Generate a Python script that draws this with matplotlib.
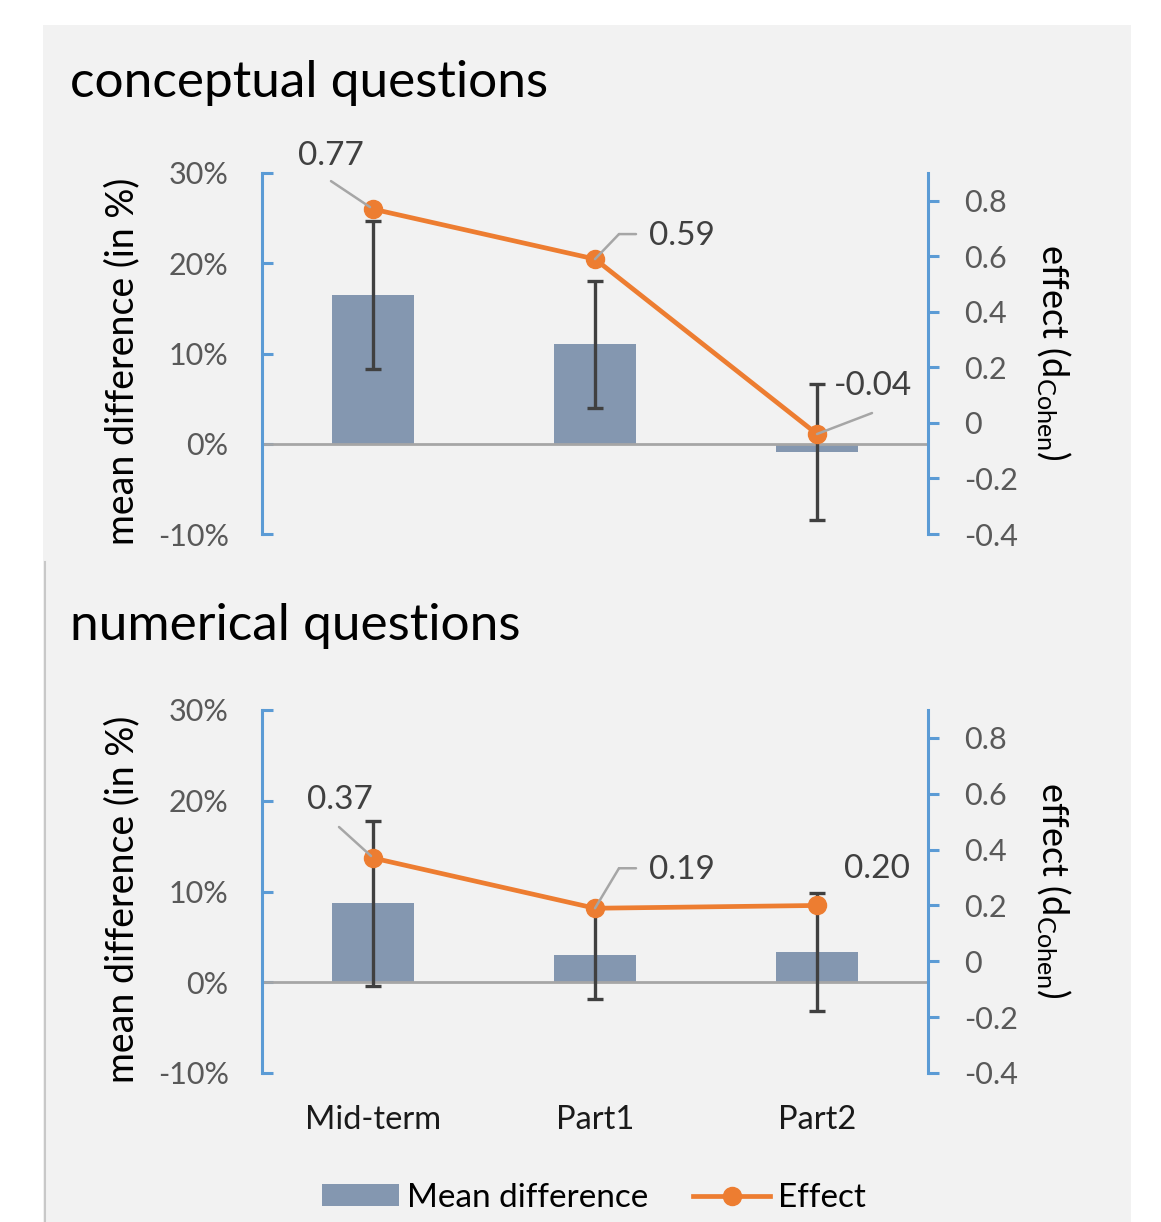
import matplotlib
matplotlib.use("Agg")
import matplotlib.pyplot as plt
from matplotlib.patches import Rectangle, Patch
from matplotlib.lines import Line2D
from matplotlib.ticker import FixedLocator, FuncFormatter
from matplotlib.transforms import offset_copy

# ---- data -------------------------------------------------------------
categories = ["Mid-term", "Part1", "Part2"]

concept_mean = [16.5, 11.0, -0.9]      # mean difference in %
concept_err = [8.2, 7.0, 7.5]          # half-length of error bars in %
concept_effect = [0.77, 0.59, -0.04]   # Cohen's d

numeric_mean = [8.7, 3.0, 3.3]
numeric_err = [9.1, 4.9, 6.5]
numeric_effect = [0.37, 0.19, 0.20]

pct_ticks = [-10, 0, 10, 20, 30]
effect_ticks = [-0.4, -0.2, 0, 0.2, 0.4, 0.6, 0.8]
panel_titles = ["conceptual questions", "numerical questions"]

# ---- style ------------------------------------------------------------
FONT = ["Lato", "DejaVu Sans"]
plt.rcParams["font.family"] = FONT
plt.rcParams["axes.unicode_minus"] = False
plt.rcParams["mathtext.fontset"] = "custom"
plt.rcParams["mathtext.rm"] = "Lato"
plt.rcParams["mathtext.it"] = "Lato:italic"
plt.rcParams["mathtext.bf"] = "Lato:bold"

BAR = "#8497B0"
ORANGE = "#ED7D31"
AXBLUE = "#5B9BD5"
PANEL = "#F2F2F2"
TICKGREY = "#595959"
LABELGREY = "#404040"
LEADER = "#A6A6A6"

W, H, DPI = 1161, 1222, 100
fig = plt.figure(figsize=(W / DPI, H / DPI), dpi=DPI, facecolor="white")


def fx(px):
    return px / W


def fy(py):
    return 1 - py / H


# chart area background and the left border of the lower chart
fig.patches.append(Rectangle((fx(43), 0), fx(1131) - fx(43), fy(25),
                             transform=fig.transFigure, facecolor=PANEL,
                             edgecolor="none", zorder=-10))
fig.add_artist(Line2D([fx(44.5), fx(44.5)], [0, fy(562)], color="#C8C8C8",
                      lw=1.5, transform=fig.transFigure, zorder=-5))


def leader(ax, x, y, pts):
    """Polyline given as pixel offsets from the data point (x, y)."""
    for (x0, y0), (x1, y1) in zip(pts[:-1], pts[1:]):
        ax.annotate("", xy=(x, y),
                    xycoords=offset_copy(ax.transData, fig=fig, x=x0, y=y0, units="dots"),
                    xytext=(x1 - x0, y1 - y0), textcoords="offset pixels",
                    arrowprops=dict(arrowstyle="-", color=LEADER, lw=1.8,
                                    shrinkA=0, shrinkB=0),
                    zorder=6)


def panel(top, bottom, title, title_base, means, errs, effects, labels, show_x):
    ax = fig.add_axes([fx(262), fy(bottom), fx(928) - fx(262), (bottom - top) / H])
    ax.set_facecolor("none")
    x = list(range(len(categories)))

    ax.bar(x, means, width=0.37, color=BAR, zorder=2)
    ax.errorbar(x, means, yerr=errs, fmt="none", ecolor=LABELGREY,
                elinewidth=2.4, capsize=6, capthick=2.4, zorder=3)
    ax.axhline(0, color=LEADER, lw=2, zorder=2.5)

    ax.set_xlim(-0.5, 2.5)
    ax.set_ylim(-10, 30)
    ax.yaxis.set_major_locator(FixedLocator(pct_ticks))
    ax.yaxis.set_major_formatter(FuncFormatter(lambda v, p: f"{v:.0f}%"))
    for s in ["top", "right", "bottom"]:
        ax.spines[s].set_visible(False)
    ax.spines["left"].set_color(AXBLUE)
    ax.spines["left"].set_linewidth(2.2)
    ax.tick_params(axis="y", direction="in", length=8, width=2.2, color=AXBLUE,
                   labelcolor=TICKGREY, labelsize=22, pad=24)
    ax.set_xticks(x)
    if show_x:
        ax.set_xticklabels(categories, fontsize=23.5, color="#1A1A1A")
        ax.tick_params(axis="x", length=0, pad=23)
    else:
        ax.set_xticklabels([])
        ax.tick_params(axis="x", length=0)

    axr = ax.twinx()
    axr.set_ylim(-0.4, 0.9)
    axr.yaxis.set_major_locator(FixedLocator(effect_ticks))
    axr.yaxis.set_major_formatter(FuncFormatter(lambda v, p: f"{round(v, 1):g}"))
    for s in ["top", "left", "bottom"]:
        axr.spines[s].set_visible(False)
    axr.spines["right"].set_color(AXBLUE)
    axr.spines["right"].set_linewidth(2.2)
    axr.tick_params(axis="y", direction="out", length=8, width=2.2, color=AXBLUE,
                    labelcolor=TICKGREY, labelsize=22, pad=18)

    axr.plot(x, effects, color=ORANGE, lw=3.4, marker="o", markersize=13,
             zorder=5, solid_capstyle="round")

    for i, (tx, ty, ha, pts) in enumerate(labels):
        axr.annotate(f"{effects[i]:.2f}", xy=(x[i], effects[i]), xytext=(tx, ty),
                     textcoords="offset pixels", ha=ha, va="center",
                     fontsize=24, color=LABELGREY, zorder=7)
        if pts:
            leader(axr, x[i], effects[i], pts)

    fig.text(fx(70), fy(title_base), title, fontsize=37, color="black",
             ha="left", va="baseline")
    mid = (top + bottom) / 2
    fig.text(fx(122), fy(mid + 8), "mean difference (in %)", rotation=90,
             fontsize=27, color="black", ha="center", va="center")
    fig.text(fx(1053), fy(mid - 1), r"effect (d$_{\mathrm{Cohen}}$)", rotation=270,
             fontsize=26, color="black", ha="center", va="center")
    return ax, axr


# label positions: (dx, dy, ha, leader polyline) in pixels relative to the point
concept_labels = [
    (-42, 53, "center", [(-42, 28), (-3, 2)]),
    (54, 23, "left", [(0, 0), (24, 25), (41, 25)]),
    (56, 48, "center", [(55, 21), (0, 0)]),
]
numeric_labels = [
    (-33, 58, "center", [(-34, 31), (-2, 2)]),
    (54, 38, "left", [(0, 0), (24, 40), (41, 40)]),
    (60, 36, "center", None),
]

panel(173, 534, panel_titles[0], 97, concept_mean, concept_err, concept_effect,
      concept_labels, False)
panel(710, 1073, panel_titles[1], 640, numeric_mean, numeric_err, numeric_effect,
      numeric_labels, True)

handles = [Patch(facecolor=BAR, edgecolor="none"),
           Line2D([0], [0], color=ORANGE, lw=3.4, marker="o", markersize=13)]
fig.legend(handles, ["Mean difference", "Effect"], loc="center",
           bbox_to_anchor=(fx(594), fy(1198)), ncol=2, frameon=False,
           fontsize=24, handlelength=2.3, handleheight=0.65, handletextpad=0.25,
           columnspacing=1.35)

fig.savefig("out.png", dpi=DPI, facecolor="white")
